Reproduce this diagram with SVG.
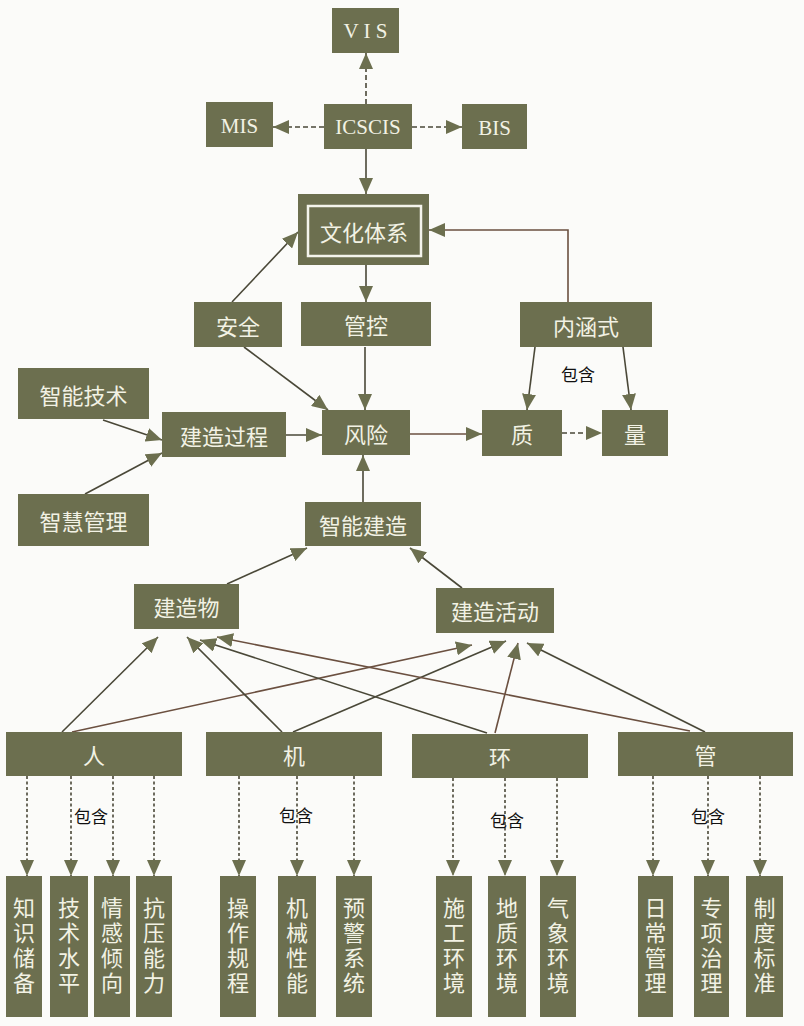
<svg xmlns="http://www.w3.org/2000/svg" width="804" height="1026" viewBox="0 0 804 1026">
<defs>
<marker id="ah" markerUnits="userSpaceOnUse" markerWidth="16" markerHeight="14" refX="16" refY="7" orient="auto">
<path d="M0,0 L16,7 L0,14 z" fill="#6c6f4f"/>
</marker>
</defs>
<style>
.b{fill:#6c6f4f}
.t{fill:#f2f2e4;font-family:"Noto Sans CJK SC","Noto Sans",sans-serif;font-size:22px;text-anchor:middle;dominant-baseline:central}
.e{fill:#f2f2e4;font-family:"Liberation Serif",serif;font-size:21px;text-anchor:middle;dominant-baseline:central}
.v{fill:#f2f2e4;font-family:"Noto Sans CJK SC","Noto Sans",sans-serif;font-size:22px;text-anchor:middle;writing-mode:vertical-rl;letter-spacing:3px}
.lbl{fill:#111;font-family:"Noto Sans CJK SC","Noto Sans",sans-serif;font-size:17px;text-anchor:middle;dominant-baseline:central}
.c{fill:none;stroke:#4a4838;stroke-width:1.6;marker-end:url(#ah)}
.d{stroke-dasharray:5,3}
.dd{stroke-dasharray:3,2.5}
</style>
<rect width="804" height="1026" fill="#fbfbf9"/>
<g id="connectors">
<path class="c d" d="M366,104 L366,53"/>
<path class="c d" d="M324,127 L273,127"/>
<path class="c d" d="M412,127 L462,127"/>
<path class="c" d="M366,149 L366,194"/>
<path class="c" style="stroke:#6b5040" d="M568,302 L568,230 L429,230"/>
<path class="c" d="M232,302 L298,232"/>
<path class="c" d="M366,265 L366,302"/>
<path class="c" d="M244,347 L328,410"/>
<path class="c" d="M365,347 L365,410"/>
<path class="c" d="M103,420 L162,440"/>
<path class="c" d="M85,494 L162,453"/>
<path class="c" d="M286,435 L322,435"/>
<path class="c" style="stroke:#6b5040" d="M410,434 L482,434"/>
<path class="c d" d="M562,433 L602,433"/>
<path class="c" d="M535,347 L527,410"/>
<path class="c" d="M623,347 L631,410"/>
<path class="c" d="M363,502 L363,455"/>
<path class="c" d="M227,584 L307,548"/>
<path class="c" d="M462,588 L410,548"/>
<path class="c" d="M62,732 L158,637"/>
<path class="c" style="stroke:#6b5040" d="M72,732 L472,645"/>
<path class="c" d="M282,732 L187,637"/>
<path class="c" d="M293,732 L506,641"/>
<path class="c" d="M487,733 L200,640"/>
<path class="c" style="stroke:#6b5040" d="M495,733 L518,643"/>
<path class="c" style="stroke:#6b5040" d="M690,731 L217,637"/>
<path class="c" d="M705,732 L527,643"/>
<path class="c dd" d="M27,776 L27,876"/>
<path class="c dd" d="M71,776 L71,876"/>
<path class="c dd" d="M113,776 L113,876"/>
<path class="c dd" d="M154,776 L154,876"/>
<path class="c dd" d="M239,776 L239,876"/>
<path class="c dd" d="M297,776 L297,876"/>
<path class="c dd" d="M354,776 L354,876"/>
<path class="c dd" d="M453,778 L453,876"/>
<path class="c dd" d="M505,778 L505,876"/>
<path class="c dd" d="M557,778 L557,876"/>
<path class="c dd" d="M653,776 L653,876"/>
<path class="c dd" d="M708,776 L708,876"/>
<path class="c dd" d="M760,776 L760,876"/>
</g>
<g id="labels">
<text class="lbl" x="578" y="373">包含</text>
<text class="lbl" x="91" y="815">包含</text>
<text class="lbl" x="296" y="814">包含</text>
<text class="lbl" x="507" y="819">包含</text>
<text class="lbl" x="708" y="815">包含</text>
</g>
<g id="VIS"><rect class="b" x="332" y="8" width="67" height="45"/><text class="e" x="365.5" y="31">V I S</text></g>
<g id="MIS"><rect class="b" x="206" y="102" width="67" height="45"/><text class="e" x="239.5" y="126">MIS</text></g>
<g id="ICSCIS"><rect class="b" x="324" y="104" width="88" height="45"/><text class="e" x="368" y="127">ICSCIS</text></g>
<g id="BIS"><rect class="b" x="462" y="104" width="65" height="45"/><text class="e" x="494.5" y="128">BIS</text></g>
<g id="culture"><rect class="b" x="298" y="194" width="131" height="71"/><rect x="308" y="206" width="113" height="50" fill="none" stroke="#f4f4ec" stroke-width="2.5"/><text class="t" x="364" y="231">文化体系</text></g>
<g id="safety"><rect class="b" x="194" y="302" width="88" height="45"/><text class="t" x="238" y="325">安全</text></g>
<g id="control"><rect class="b" x="301" y="302" width="130" height="44"/><text class="t" x="366" y="324">管控</text></g>
<g id="connotation"><rect class="b" x="520" y="302" width="132" height="45"/><text class="t" x="586" y="325">内涵式</text></g>
<g id="smarttech"><rect class="b" x="18" y="368" width="131" height="51"/><text class="t" x="83.5" y="394">智能技术</text></g>
<g id="process"><rect class="b" x="162" y="412" width="124" height="45"/><text class="t" x="224" y="435">建造过程</text></g>
<g id="risk"><rect class="b" x="322" y="410" width="88" height="45"/><text class="t" x="366" y="433">风险</text></g>
<g id="quality"><rect class="b" x="482" y="410" width="80" height="46"/><text class="t" x="522" y="433">质</text></g>
<g id="quantity"><rect class="b" x="602" y="410" width="66" height="46"/><text class="t" x="635" y="433">量</text></g>
<g id="smartmgmt"><rect class="b" x="18" y="494" width="131" height="52"/><text class="t" x="83.5" y="520">智慧管理</text></g>
<g id="smartbuild"><rect class="b" x="305" y="502" width="116" height="44"/><text class="t" x="363" y="524">智能建造</text></g>
<g id="building"><rect class="b" x="134" y="584" width="105" height="45"/><text class="t" x="186.5" y="606">建造物</text></g>
<g id="activity"><rect class="b" x="436" y="588" width="118" height="45"/><text class="t" x="495" y="610">建造活动</text></g>
<g id="ren"><rect class="b" x="6" y="732" width="176" height="44"/><text class="t" x="94" y="754">人</text></g>
<g id="ji"><rect class="b" x="206" y="732" width="176" height="44"/><text class="t" x="294" y="754">机</text></g>
<g id="huan"><rect class="b" x="412" y="734" width="176" height="44"/><text class="t" x="500" y="756">环</text></g>
<g id="guan"><rect class="b" x="618" y="732" width="175" height="44"/><text class="t" x="705.5" y="754">管</text></g>
<g id="b1"><rect class="b" x="6" y="876" width="36" height="141"/><text class="v" x="24" y="947">知识储备</text></g>
<g id="b2"><rect class="b" x="50" y="876" width="38" height="141"/><text class="v" x="69" y="947">技术水平</text></g>
<g id="b3"><rect class="b" x="94" y="876" width="36" height="141"/><text class="v" x="112" y="947">情感倾向</text></g>
<g id="b4"><rect class="b" x="136" y="876" width="36" height="141"/><text class="v" x="154" y="947">抗压能力</text></g>
<g id="b5"><rect class="b" x="220" y="876" width="36" height="141"/><text class="v" x="238" y="947">操作规程</text></g>
<g id="b6"><rect class="b" x="278" y="876" width="38" height="141"/><text class="v" x="297" y="947">机械性能</text></g>
<g id="b7"><rect class="b" x="336" y="876" width="36" height="141"/><text class="v" x="354" y="947">预警系统</text></g>
<g id="b8"><rect class="b" x="436" y="876" width="36" height="141"/><text class="v" x="454" y="947">施工环境</text></g>
<g id="b9"><rect class="b" x="488" y="876" width="38" height="141"/><text class="v" x="507" y="947">地质环境</text></g>
<g id="b10"><rect class="b" x="540" y="876" width="36" height="141"/><text class="v" x="558" y="947">气象环境</text></g>
<g id="b11"><rect class="b" x="638" y="876" width="35" height="141"/><text class="v" x="655.5" y="947">日常管理</text></g>
<g id="b12"><rect class="b" x="694" y="876" width="35" height="141"/><text class="v" x="711.5" y="947">专项治理</text></g>
<g id="b13"><rect class="b" x="746" y="876" width="37" height="141"/><text class="v" x="764.5" y="947">制度标准</text></g>
</svg>
